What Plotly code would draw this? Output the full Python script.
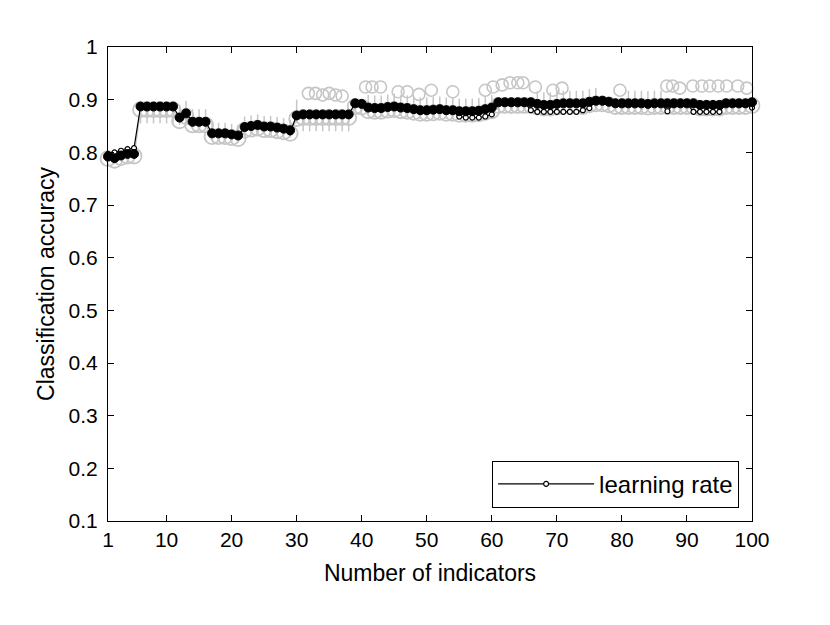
import plotly.graph_objects as go

x_vals = list(range(1, 101))

main_acc = [
    0.792, 0.789, 0.794, 0.797, 0.797,
    0.887, 0.887, 0.887, 0.887, 0.887, 0.887,
    0.866, 0.874, 0.858, 0.858, 0.858,
    0.836, 0.836, 0.836, 0.834, 0.832,
    0.848, 0.850, 0.852, 0.849, 0.849, 0.847, 0.845, 0.842,
    0.870, 0.872, 0.872, 0.872, 0.872, 0.872, 0.872, 0.872, 0.872,
    0.893, 0.892,
    0.885, 0.884, 0.884, 0.886, 0.887, 0.885, 0.884, 0.882, 0.880, 0.880,
    0.881, 0.882, 0.880, 0.880, 0.878, 0.878, 0.878, 0.879, 0.882, 0.885,
    0.895, 0.895, 0.895, 0.895, 0.895, 0.895, 0.892, 0.890, 0.890, 0.892,
    0.893, 0.893, 0.893, 0.893, 0.896, 0.898, 0.898, 0.896, 0.893, 0.893,
    0.893, 0.893, 0.893, 0.892, 0.893, 0.893, 0.893, 0.893, 0.893, 0.893,
    0.893, 0.890, 0.890, 0.890, 0.890, 0.893, 0.893, 0.893, 0.893, 0.895,
]

learning_rate = [
    0.797, 0.800, 0.803, 0.806, 0.808,
    0.887, 0.887, 0.887, 0.887, 0.887, 0.887,
    0.866, 0.874, 0.858, 0.858, 0.858,
    0.836, 0.836, 0.836, 0.834, 0.832,
    0.848, 0.850, 0.852, 0.849, 0.849, 0.847, 0.845, 0.838,
    0.870, 0.872, 0.872, 0.872, 0.872, 0.872, 0.872, 0.872, 0.872,
    0.893, 0.892,
    0.885, 0.884, 0.884, 0.886, 0.887, 0.885, 0.884, 0.882, 0.880, 0.880,
    0.881, 0.882, 0.880, 0.880, 0.868, 0.866, 0.866, 0.866, 0.868, 0.872,
    0.895, 0.895, 0.895, 0.895, 0.895, 0.880, 0.877, 0.877, 0.877, 0.877,
    0.877, 0.877, 0.877, 0.880, 0.884, 0.898, 0.898, 0.896, 0.893, 0.893,
    0.893, 0.893, 0.893, 0.892, 0.893, 0.893, 0.878, 0.893, 0.893, 0.893,
    0.877, 0.877, 0.877, 0.877, 0.877, 0.893, 0.893, 0.893, 0.893, 0.885,
]

gray_acc = [
    0.788, 0.785, 0.790, 0.793, 0.793,
    0.881, 0.881, 0.881, 0.881, 0.881, 0.881,
    0.860, 0.868, 0.852, 0.852, 0.852,
    0.830, 0.830, 0.830, 0.828, 0.826,
    0.842, 0.844, 0.846, 0.843, 0.843, 0.841, 0.839, 0.836,
    0.864, 0.866, 0.866, 0.866, 0.866, 0.866, 0.866, 0.866, 0.866,
    0.887, 0.886,
    0.879, 0.878, 0.878, 0.880, 0.881, 0.879, 0.878, 0.876, 0.874, 0.874,
    0.875, 0.876, 0.874, 0.874, 0.872, 0.872, 0.872, 0.873, 0.876, 0.879,
    0.889, 0.889, 0.889, 0.889, 0.889, 0.889, 0.886, 0.884, 0.884, 0.886,
    0.887, 0.887, 0.887, 0.887, 0.890, 0.892, 0.892, 0.890, 0.887, 0.887,
    0.887, 0.887, 0.887, 0.886, 0.887, 0.887, 0.887, 0.887, 0.887, 0.887,
    0.887, 0.884, 0.884, 0.884, 0.884, 0.887, 0.887, 0.887, 0.887, 0.889,
]

gray_err_plus = (
    [0.0] * 5 + [0.0] * 6 + [0.030] * 5 + [0.026] * 5 + [0.026] * 8 + [0.036]
    + [0.0] * 8 + [0.010] * 2 + [0.030] * 20 + [0.010] * 6 + [0.030] * 10
    + [0.010] * 4 + [0.030] * 6 + [0.010] * 14
)
gray_err_minus = (
    [0.0] * 5 + [0.026] * 6 + [0.008] * 5 + [0.008] * 5 + [0.008] * 8 + [0.008]
    + [0.026] * 8 + [0.008] * 2 + [0.010] * 20 + [0.008] * 6 + [0.010] * 10
    + [0.008] * 4 + [0.010] * 6 + [0.008] * 14
)

upper_x = [31.8, 32.9, 34, 35, 36, 37, 40.6, 41.6, 42.9, 45.6, 47, 48.8, 50.7, 54,
           59, 60.2, 61.6, 62.8, 64, 64.8, 66.7, 69.4, 70.8, 79.7,
           86.9, 87.8, 88.9, 90.9, 92.3, 93.5, 94.8, 96.1, 97.8, 99.2]
upper_acc = [0.912, 0.912, 0.909, 0.912, 0.909, 0.907, 0.924, 0.924, 0.924, 0.915, 0.915,
             0.910, 0.918, 0.915, 0.918, 0.924, 0.928, 0.932, 0.932, 0.932, 0.924,
             0.918, 0.922, 0.918, 0.926, 0.926, 0.922, 0.926, 0.926, 0.926, 0.926,
             0.926, 0.926, 0.922]

x_ticks = [1, 10, 20, 30, 40, 50, 60, 70, 80, 90, 100]
y_ticks = [0.1, 0.2, 0.3, 0.4, 0.5, 0.6, 0.7, 0.8, 0.9, 1.0]
y_tick_text = ["0.1", "0.2", "0.3", "0.4", "0.5", "0.6", "0.7", "0.8", "0.9", "1"]

GRAY = "#c6c6c6"
FONT = "Liberation Sans, Arial, sans-serif"

fig = go.Figure()

fig.add_trace(go.Scatter(
    x=upper_x, y=upper_acc, mode="markers", showlegend=False,
    marker=dict(symbol="circle-open", size=12, color=GRAY, line=dict(width=1.6)),
    cliponaxis=False,
))

fig.add_trace(go.Scatter(
    x=x_vals, y=gray_acc, mode="lines+markers", showlegend=False,
    line=dict(color=GRAY, width=1.5),
    marker=dict(symbol="circle-open", size=15, color=GRAY, line=dict(width=1.8)),
    error_y=dict(type="data", symmetric=False, array=gray_err_plus,
                 arrayminus=gray_err_minus, color=GRAY, thickness=1.5, width=0),
    cliponaxis=False,
))

fig.add_trace(go.Scatter(
    x=x_vals, y=learning_rate, mode="lines+markers", name="learning rate",
    line=dict(color="black", width=1.2),
    marker=dict(symbol="circle", size=5, color="white", line=dict(color="black", width=1.2)),
    cliponaxis=False,
))

fig.add_trace(go.Scatter(
    x=x_vals, y=main_acc, mode="markers", showlegend=False,
    marker=dict(symbol="circle", size=9, color="black", line=dict(color="black", width=1)),
    cliponaxis=False,
))

axis_common = dict(
    showline=True, linecolor="black", linewidth=1, mirror="ticks",
    ticks="inside", ticklen=6, tickcolor="black", tickwidth=1,
    showgrid=False, zeroline=False,
    tickfont=dict(family=FONT, size=21, color="black"),
)

fig.update_layout(
    width=830, height=625,
    paper_bgcolor="white", plot_bgcolor="white",
    margin=dict(l=100, r=86, t=39, b=112),
    font=dict(family=FONT, size=21, color="black"),
    xaxis=dict(range=[1, 100], tickvals=x_ticks,
               title=dict(text="Number of indicators", standoff=14,
                          font=dict(size=23)),
               **axis_common),
    yaxis=dict(range=[0.1, 1.0], tickvals=y_ticks, ticktext=y_tick_text,
               ticklabelstandoff=5,
               title=dict(text="Classification accuracy", standoff=7,
                          font=dict(size=23)),
               **axis_common),
    legend=dict(x=0.98, y=0.028, xanchor="right", yanchor="bottom",
                bordercolor="black", borderwidth=1, bgcolor="white",
                font=dict(size=24), itemwidth=96,
                tracegroupgap=0),
    showlegend=True,
)

fig.write_html("out.html")
